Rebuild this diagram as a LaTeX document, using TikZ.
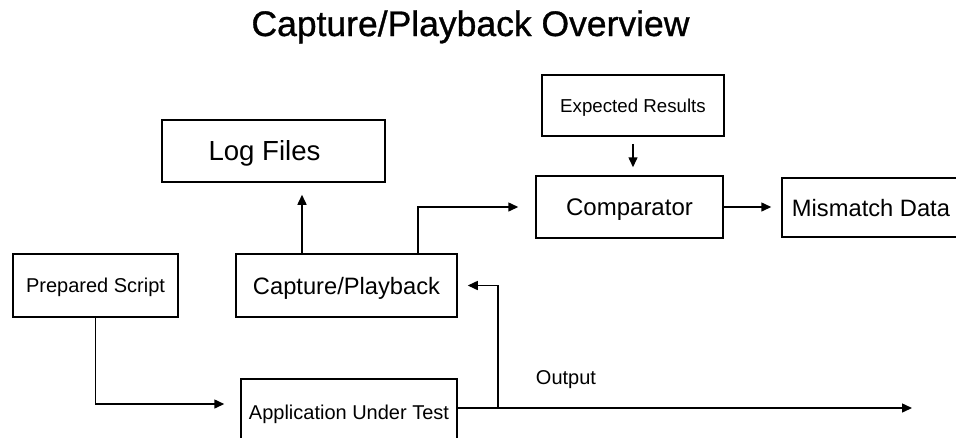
\documentclass[tikz,border=0pt]{standalone}
\usepackage{fontspec}
\setmainfont{Liberation Sans}
\newfontfamily\titlefont[FakeBold=0.9]{Liberation Sans}
\usetikzlibrary{arrows.meta}
\begin{document}
\begin{tikzpicture}[x=1pt,y=-1pt,
  box/.style={draw,line width=1.5pt,inner sep=0pt,text depth=0pt},
  arr/.style={line width=1.5pt,-{Triangle[length=10pt,width=9pt]}},
  ln/.style={line width=1.5pt}]
\useasboundingbox (0,0) rectangle (956,437);
\clip (0,0) rectangle (956,437);
\node[font=\titlefont\fontsize{35.5}{40}\selectfont,anchor=base,inner sep=0pt] (title) at (470.5,36) {Capture/Playback Overview};
\node[box,text height=19.8pt,minimum width=223pt,minimum height=62pt,font=\fontsize{27.6}{32}\selectfont] (logfiles) at (273.5,151) {Log Files\hspace*{18pt}};
\node[box,text height=13.4pt,minimum width=182pt,minimum height=61pt,font=\fontsize{18.7}{22}\selectfont] (expected) at (633,105.5) {Expected Results};
\node[box,text height=17.2pt,minimum width=187pt,minimum height=62pt,font=\fontsize{24}{28}\selectfont] (comparator) at (629.5,207) {Comparator};
\node[box,text height=17pt,minimum width=178pt,minimum height=59pt,font=\fontsize{23.7}{28}\selectfont] (mismatch) at (871,207.5) {Mismatch Data};
\node[box,text height=17pt,minimum width=221pt,minimum height=63pt,font=\fontsize{23.7}{28}\selectfont] (capture) at (346.5,285.5) {Capture/Playback};
\node[box,text height=14.3pt,minimum width=165pt,minimum height=63pt,font=\fontsize{20}{24}\selectfont] (prepared) at (95.5,285.5) {Prepared Script};
\node[box,text height=14.3pt,minimum width=216pt,minimum height=66pt,font=\fontsize{20}{24}\selectfont] (aut) at (349,412) {Application Under Test};
\node[inner sep=0pt,text height=14.3pt,text depth=0pt,font=\fontsize{20}{24}\selectfont] (output) at (566,377) {Output};
\coordinate (c1) at (302,254);
\coordinate (c2) at (418,254);
\coordinate (junc) at (498,408);
\coordinate (outend) at (912,408);
\draw[arr,shorten >=12pt] (c1) -- (c1 |- logfiles.south);
\draw[arr,shorten >=17pt] (c2) |- (comparator.west);
\draw[arr,shorten <=7pt,shorten >=8pt] (expected.south) -- (expected.south |- comparator.north);
\draw[arr,shorten >=10pt] (comparator.east) -- (comparator.east -| mismatch.west);
\draw[arr,shorten >=16pt] (prepared.south) |- ([yshift=8pt]aut.west);
\draw[arr] ([yshift=4pt]aut.east) -- (outend);
\draw[arr,shorten >=10pt] (junc) |- (capture.east);
\end{tikzpicture}
\end{document}
